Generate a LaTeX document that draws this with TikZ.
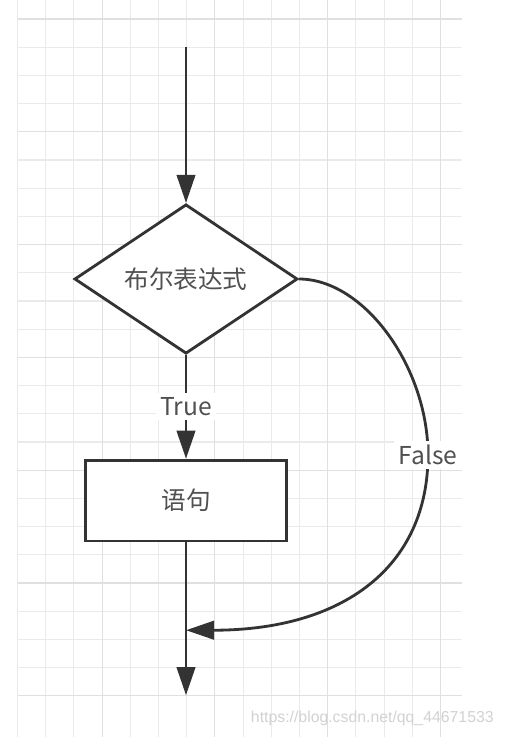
\documentclass[tikz,border=0pt]{standalone}
\usepackage{fontspec}
\usepackage{tikz}
\newfontfamily\cjk{Noto Sans CJK SC}
\newfontfamily\wmark{Liberation Sans}
\usetikzlibrary{arrows.meta, positioning, shapes.geometric}
\definecolor{edge}{HTML}{333333}
\definecolor{txt}{HTML}{505050}
\definecolor{gmin}{HTML}{EAEAEA}
\definecolor{gmaj}{HTML}{E0E0E0}
\definecolor{wm}{HTML}{D2D2D2}

\begin{document}
\begin{tikzpicture}
[x=0.02cm, y=-0.02cm,
 ->/.style={line width=1.6pt, draw=edge, arrows={-Triangle[length=16pt,width=10.5pt]}},
 cond/.style={shape=diamond, draw=edge, line width=1.6pt, fill=white, inner sep=0pt,
   minimum width=127pt, minimum height=85pt, text=txt, font=\cjk\fontsize{14}{16}\selectfont},
 stmt/.style={shape=rectangle, draw=edge, line width=1.6pt, fill=white,
   minimum width=114pt, minimum height=46pt, text=txt, font=\cjk\fontsize{14}{16}\selectfont},
 lbl/.style={fill=white, inner sep=2.5pt, text=txt, font=\cjk\fontsize{14}{16}\selectfont}]
\useasboundingbox (0,0) rectangle (504,737);
\fill[white] (0,0) rectangle (504,737);
% grid
\foreach \i in {0,...,15}
  \draw[gmin, line width=0.6pt] ({17.5+28.2*\i},0) -- ({17.5+28.2*\i},737);
\foreach \j in {0,...,24}
  \draw[gmin, line width=0.6pt] (17.5,{19+28.2*\j}) -- (462,{19+28.2*\j});
\foreach \i in {3,7,11,15}
  \draw[gmaj, line width=0.6pt] ({17.5+28.2*\i},0) -- ({17.5+28.2*\i},737);
\foreach \j in {0,4,...,24}
  \draw[gmaj, line width=0.6pt] (17.5,{19+28.2*\j}) -- (462,{19+28.2*\j});
% flow
\node[cond] (dec) at (186,279) {布尔表达式};
\node[stmt] (body) [below=59pt of dec] {语句};
\coordinate [above=89pt of dec.north] (start);
\coordinate [below=50pt of body.south] (join);
\coordinate [below=87pt of body.south] (out);
\coordinate (bend) at (428,455);
\draw [->] (start) -- (dec);
\draw [->] (dec) -- (body) node [lbl, midway] {True};
\draw [->] (body) -- (out);
\draw [->] (dec.east) .. controls +(65,0) and +(0,-88) .. (bend) node [lbl] {False}
  .. controls +(0,112) and +(157,0) .. (join);
\node [anchor=east, inner sep=0pt, text=wm, font=\wmark\fontsize{9}{10}\selectfont] (mark) at (494,718)
  {https://blog.csdn.net/qq\_44671533};
\end{tikzpicture}
\end{document}
